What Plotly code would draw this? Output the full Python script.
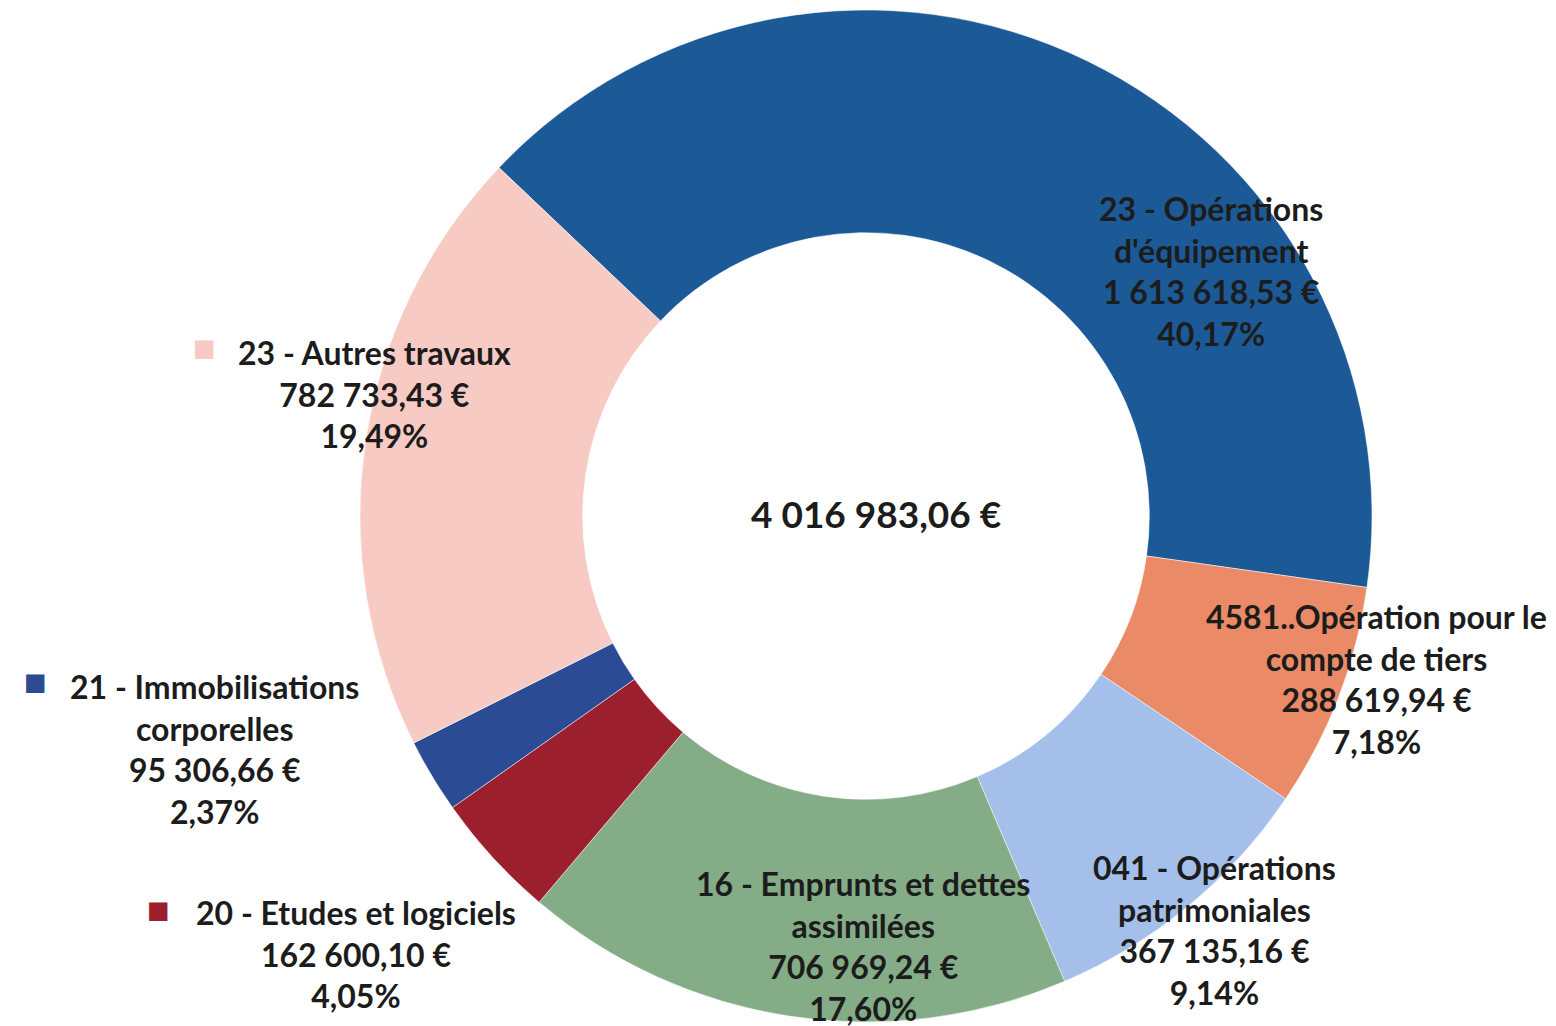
import plotly.graph_objects as go

W, H = 1556, 1026

# ---- data ----
categories = [
    "23 - Opérations<br>d'équipement",
    "4581..Opération pour le<br>compte de tiers",
    "041 - Opérations<br>patrimoniales",
    "16 - Emprunts et dettes<br>assimilées",
    "20 - Etudes et logiciels",
    "21 - Immobilisations<br>corporelles",
    "23 - Autres travaux",
]
values = [1613618.53, 288619.94, 367135.16, 706969.24, 162600.10, 95306.66, 782733.43]
pct_labels = ["40,17%", "7,18%", "9,14%", "17,60%", "4,05%", "2,37%", "19,49%"]
colors = ["#1b5a96", "#ea8a66", "#a3bfea", "#84ad87", "#9c1f2e", "#2b4c95", "#f7cbc3"]
total_label = "4 016 983,06 €"

# ---- layout (pixel positions of label blocks) ----
label_pos = [(1203, 263), (1368, 671), (1206, 922), (855, 938), (348, 946), (206, 741), (366, 386)]
key_pos = {4: (150, 902), 5: (27, 674), 6: (196, 340)}

def fmt(v):
    s = f"{v:,.2f}"
    return s.replace(",", " ").replace(".", ",") + " €"

def px(x, y):
    return x / W, 1 - y / H

cx0, cx1 = 352, 1364
cy0, cy1 = 2, 1014

fig = go.Figure(go.Pie(
    labels=categories,
    values=values,
    sort=False,
    direction="clockwise",
    rotation=-46.5,
    hole=0.56,
    marker=dict(colors=colors, line=dict(color="rgba(255,255,255,0.5)", width=1)),
    textinfo="none",
    hoverinfo="label+value+percent",
    showlegend=False,
    domain=dict(x=[cx0 / W, cx1 / W], y=[1 - cy1 / H, 1 - cy0 / H]),
))

font = dict(family="Lato, 'Open Sans', sans-serif", size=32, color="#1c1c1c", weight="bold")
annotations = []
for i, (cat, v, p) in enumerate(zip(categories, values, pct_labels)):
    x, y = px(*label_pos[i])
    annotations.append(dict(
        x=x, y=y, xref="paper", yref="paper", xanchor="center", yanchor="middle",
        text=f"{cat}<br>{fmt(v)}<br>{p}", showarrow=False, align="center", font=font,
    ))
for i, (kx, ky) in key_pos.items():
    x, y = px(kx, ky)
    annotations.append(dict(
        x=x, y=y, xref="paper", yref="paper", xanchor="center", yanchor="middle",
        text="■", showarrow=False, font=dict(family="DejaVu Sans", size=24, color=colors[i]),
    ))
x, y = px(868, 505)
annotations.append(dict(
    x=x, y=y, xref="paper", yref="paper", xanchor="center", yanchor="middle",
    text=total_label, showarrow=False,
    font=dict(family="Lato, 'Open Sans', sans-serif", size=37, color="#1c1c1c", weight="bold"),
))

fig.update_layout(
    width=W, height=H,
    margin=dict(l=0, r=0, t=0, b=0),
    paper_bgcolor="white", plot_bgcolor="white",
    annotations=annotations,
)

fig.write_html("out.html")
